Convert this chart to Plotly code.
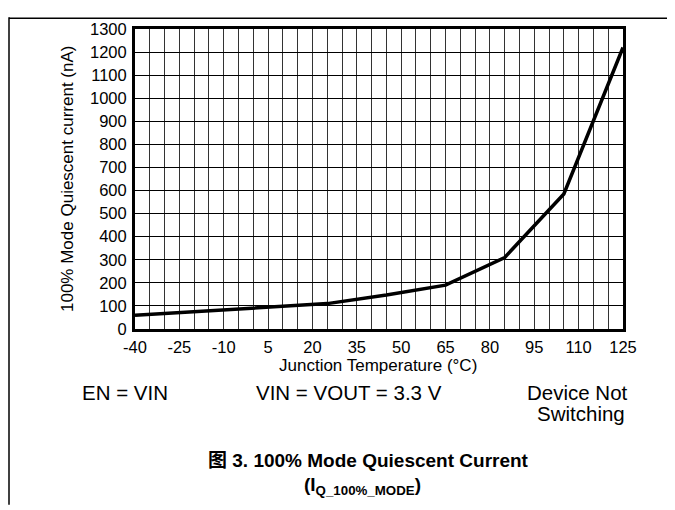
import plotly.graph_objects as go

# Data
temps = [-40, 25, 45, 65, 85, 105, 125]
iq_na = [60, 110, 147, 190, 310, 585, 1220]
x_tick_vals = [-40, -25, -10, 5, 20, 35, 50, 65, 80, 95, 110, 125]
x_tick_text = [str(v) for v in x_tick_vals]
y_tick_vals = list(range(0, 1301, 100))
y_tick_text = [str(v) for v in y_tick_vals]

# The page body has an 8px default margin, so the figure is drawn 8px in
OFF = 8
W, H = 675 - OFF, 510 - OFF
L, R, T, B = 135 - OFF, 623 - OFF, 20 - OFF, 329 - OFF


def px(x):
    return (x - OFF - L) / (R - L)


def py(y):
    return (B - (y - OFF)) / (B - T)


FONT = "Liberation Sans, Arial, Noto Sans CJK SC, sans-serif"

fig = go.Figure(
    go.Scatter(x=temps, y=iq_na, mode="lines",
               line=dict(color="black", width=3.5), hoverinfo="skip")
)

fig.update_layout(
    width=W, height=H,
    margin=dict(l=L, r=W - R, t=T, b=H - B, pad=0),
    paper_bgcolor="white", plot_bgcolor="white",
    showlegend=False,
    font=dict(family=FONT, color="black", size=16),
)

fig.update_xaxes(
    range=[-40, 125], tickvals=x_tick_vals, ticktext=x_tick_text,
    ticks="", ticklabelstandoff=1,
    showgrid=True, gridcolor="#333333", gridwidth=1.3,
    minor=dict(tick0=-40, dtick=5, showgrid=True, gridcolor="#333333", gridwidth=1.3, ticks=""),
    showline=True, mirror=True, linecolor="black", linewidth=3,
    zeroline=False, tickfont=dict(size=16.5),
)
fig.update_yaxes(
    range=[0, 1300], tickvals=y_tick_vals, ticktext=y_tick_text,
    ticks="", ticklabelstandoff=2,
    showgrid=True, gridcolor="black", gridwidth=1,
    showline=True, mirror=True, linecolor="black", linewidth=3,
    zeroline=False, tickfont=dict(size=16.5),
)

ann = [
    dict(text="Junction Temperature (°C)", x=378, y=367, size=17, angle=0),
    dict(text="100% Mode Quiescent current (nA)", x=67, y=174.5, size=17, angle=-90),
    dict(text="EN = VIN", x=125, y=394, size=20.5, angle=0),
    dict(text="VIN = VOUT = 3.3 V", x=349, y=394, size=20.5, angle=0),
    dict(text="Device Not", x=577, y=394, size=20.5, angle=0),
    dict(text="Switching", x=581, y=416, size=20.5, angle=0),
    dict(text="<b>图 3. 100% Mode Quiescent Current</b>", x=368, y=464, size=19, angle=0),
    dict(text="<b>(I<sub>Q_100%_MODE</sub>)</b>", x=362, y=491, size=19, angle=0),
]
for a in ann:
    fig.add_annotation(
        text=a["text"], x=px(a["x"]), y=py(a["y"]), xref="paper", yref="paper",
        xanchor="center", yanchor="middle", showarrow=False,
        textangle=a["angle"], font=dict(family=FONT, size=a["size"], color="black"),
    )

# page frame lines
fig.add_shape(type="line", xref="paper", yref="paper",
              x0=px(9), x1=px(9), y0=py(OFF), y1=py(510),
              line=dict(color="black", width=1.5))
fig.add_shape(type="line", xref="paper", yref="paper",
              x0=px(9), x1=px(670), y0=py(9), y1=py(9),
              line=dict(color="black", width=1.5))

fig.write_html("out.html")
